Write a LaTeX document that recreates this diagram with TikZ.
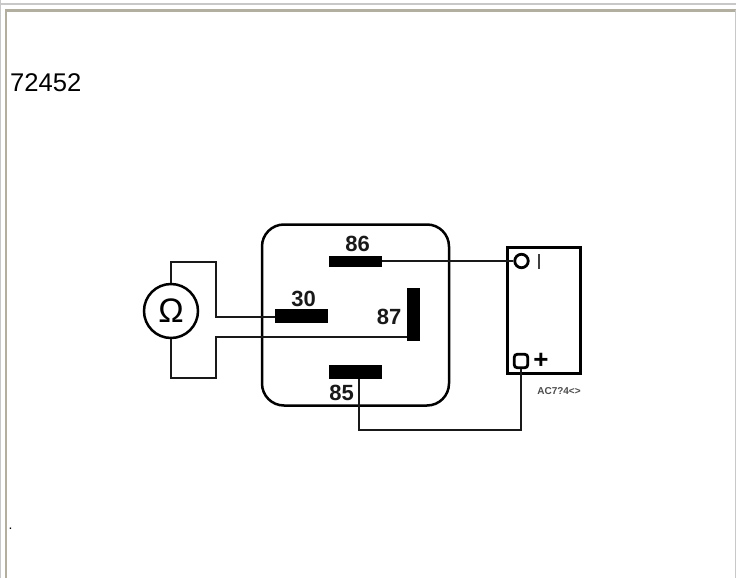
\documentclass[tikz,border=0pt]{standalone}
\usepackage{fontspec}
\setmainfont{Liberation Sans}
\definecolor{framebeige}{RGB}{178,174,160}
\definecolor{framegray}{RGB}{200,200,200}
\begin{document}
\begin{tikzpicture}[x=1pt,y=-1pt,
  wire/.style={draw=black!90,line width=1.4pt},
  pin/.style={fill=black,draw=none,inner sep=0pt,minimum width=#1},
  pinlabel/.style={font=\fontsize{22}{22}\selectfont\bfseries,inner sep=0pt,text=black!90},
  outline/.style={draw=black,line width=2.5pt}]
\useasboundingbox (0,0) rectangle (736,578);
\fill[white] (0,0) rectangle (736,578);
% page frames
\draw[line width=1.5pt,draw=framegray] (0,4) -- (736,4);
\draw[line width=1.5pt,draw=framegray] (0.7,0) -- (0.7,578);
\draw[line width=2.4pt,draw=framebeige] (6,578) -- (6,10.5) -- (736,10.5);
\draw[line width=1.4pt,draw=framegray] (735.3,10) -- (735.3,578);
\node[anchor=base west,inner sep=0pt,font=\fontsize{25.6}{25.6}\selectfont] (code) at (10,91) {72452};
\node[anchor=base,inner sep=0pt,font=\fontsize{14}{14}\selectfont] (dot) at (10.5,529) {.};
% relay
\node[outline,rounded corners=22pt,minimum width=187pt,minimum height=181pt,inner sep=0pt] (relay) at (355.5,315) {};
\node[pin=53pt,minimum height=11pt] (p86) at (355.5,261.5) {};
\node[pin=53pt,minimum height=14pt] (p30) at (301.5,316) {};
\node[pin=13pt,minimum height=53pt] (p87) at (413.5,314.5) {};
\node[pin=53pt,minimum height=14pt] (p85) at (355.5,372) {};
\node[pinlabel] (l86) at (357.5,244) {86};
\node[pinlabel] (l30) at (303.7,299) {30};
\node[pinlabel] (l87) at (389,316.5) {87};
\node[pinlabel] (l85) at (341.7,392.7) {85};
% meter
\node[outline,circle,minimum size=54pt,inner sep=0pt,font=\fontsize{34}{34}\selectfont] (meter) at (171,311) {Ω};
% battery
\node[outline,line width=2.8pt,minimum width=73pt,minimum height=126pt,inner sep=0pt] (bat) at (544,310.5) {};
\node[outline,line width=2.8pt,circle,minimum size=13.5pt,inner sep=0pt] (tneg) at (521.5,261) {};
\node[outline,line width=2.8pt,rounded corners=3pt,minimum size=13.5pt,inner sep=0pt] (tpos) at (521,361) {};
\node[inner sep=0pt,minimum width=1.6pt,minimum height=15pt,fill=black!75] (minus) at (539,261.5) {};
\node[inner sep=0pt,font=\fontsize{26}{26}\selectfont\bfseries] (plus) at (541,361) {+};
\node[inner sep=0pt,font=\fontsize{10}{10}\selectfont\bfseries,text=black!70] (ref) at (559,391) {AC7?4<>};
% wires
\coordinate (m1) at (171,262);
\coordinate (m2) at (216,262);
\coordinate (m3) at (216,317);
\coordinate (m4) at (171,378);
\coordinate (m5) at (216,378);
\coordinate (m6) at (216,337);
\coordinate (b1) at (359,430);
\coordinate (b2) at (521,430);
\draw[wire] (meter.north) -- (m1) -- (m2) -- (m3) -- (p30.west |- m3);
\draw[wire] (meter.south) -- (m4) -- (m5) -- (m6) -- (p87.west |- m6);
\draw[wire] (p86.east |- tneg.west) -- (tneg.west);
\draw[wire] (p85.south -| b1) -- (b1) -- (b2) -- (tpos.south);
\end{tikzpicture}
\end{document}
